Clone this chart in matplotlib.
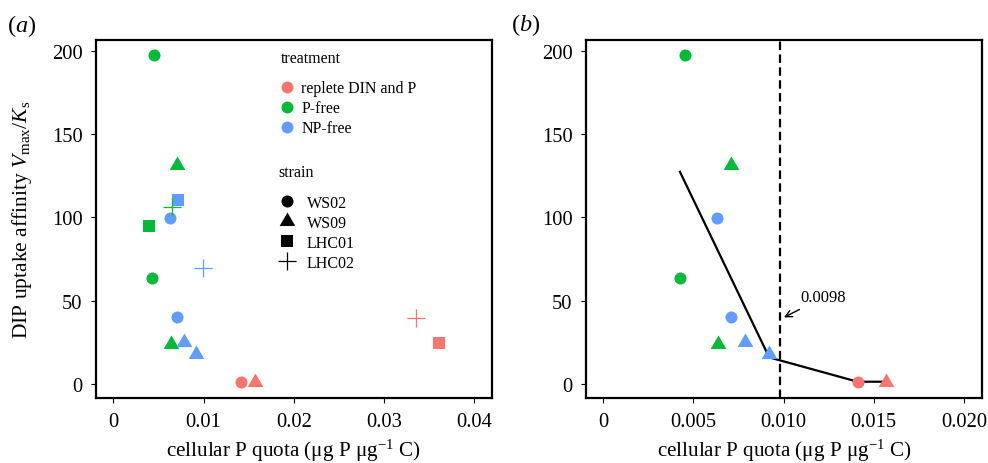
import matplotlib
matplotlib.use('Agg')
import matplotlib.pyplot as plt
from matplotlib.lines import Line2D
from matplotlib.path import Path

plt.rcParams['font.family'] = ['Liberation Serif', 'DejaVu Serif']
plt.rcParams['mathtext.fontset'] = 'custom'
plt.rcParams['mathtext.rm'] = 'Liberation Serif'
plt.rcParams['mathtext.it'] = 'Liberation Serif:italic'
plt.rcParams['mathtext.bf'] = 'Liberation Serif:bold'

# ---------------- data ----------------
strain = ['WS02', 'WS02', 'WS02', 'WS02', 'WS02',
          'WS09', 'WS09', 'WS09', 'WS09', 'WS09',
          'LHC01', 'LHC01', 'LHC01',
          'LHC02', 'LHC02', 'LHC02']
treatment = ['P-free', 'P-free', 'NP-free', 'NP-free', 'replete DIN and P',
             'P-free', 'P-free', 'NP-free', 'NP-free', 'replete DIN and P',
             'NP-free', 'P-free', 'replete DIN and P',
             'P-free', 'NP-free', 'replete DIN and P']
p_quota = [0.00451, 0.00425, 0.00629, 0.00710, 0.01412,
           0.00710, 0.00636, 0.00787, 0.00920, 0.01570,
           0.00720, 0.00399, 0.03610,
           0.00654, 0.00990, 0.03350]
affinity = [197.5, 63.8, 99.4, 40.4, 1.0,
            131.5, 24.0, 25.0, 18.0, 1.0,
            110.6, 94.6, 24.4,
            106.0, 69.8, 39.4]

treatments = ['replete DIN and P', 'P-free', 'NP-free']
treat_colors = ['#F8766D', '#00BA38', '#619CFF']
strains = ['WS02', 'WS09', 'LHC01', 'LHC02']
strains_b = ['WS02', 'WS09']

fit_x = [0.00425, 0.0092, 0.0141, 0.0157]
fit_y = [127.4, 16.0, 1.4, 1.4]
threshold = 0.0098
threshold_label = '0.0098'

xticks_a = [0, 0.01, 0.02, 0.03, 0.04]
xticklabels_a = ['0', '0.01', '0.02', '0.03', '0.04']
xticks_b = [0, 0.005, 0.010, 0.015, 0.020]
xticklabels_b = ['0', '0.005', '0.010', '0.015', '0.020']
yticks = [0, 50, 100, 150, 200]

# ---------------- styles ----------------
tri = Path([(-1, -0.577), (1, -0.577), (0, 1.155), (-1, -0.577)],
           [Path.MOVETO, Path.LINETO, Path.LINETO, Path.CLOSEPOLY])
marker_style = {'WS02': ('o', 75), 'WS09': (tri, 170),
                'LHC01': ('s', 83), 'LHC02': ('+', 169)}
color_of = dict(zip(treatments, treat_colors))

fig = plt.figure(figsize=(9.88, 4.64), dpi=100)
ax1 = fig.add_axes([0.0972, 0.140, 0.4005, 0.7716])
ax2 = fig.add_axes([0.5931, 0.140, 0.4008, 0.7716])


def draw_points(ax, keep):
    for xi, yi, s, t in zip(p_quota, affinity, strain, treatment):
        if s not in keep:
            continue
        m, size = marker_style[s]
        lw = 0.9 if s == 'LHC02' else 0
        ax.scatter([xi], [yi], marker=m, s=size, color=color_of[t],
                   linewidths=lw, zorder=3)


draw_points(ax1, strains)
draw_points(ax2, strains_b)

for ax in (ax1, ax2):
    for sp in ax.spines.values():
        sp.set_linewidth(1.6)
    ax.set_ylim(-8.4, 206.5)
    ax.set_yticks(yticks)
    ax.set_yticklabels([str(v) for v in yticks])
    ax.tick_params(direction='out', length=3.8, width=0.8, labelsize=14.8)
    ax.tick_params(axis='x', pad=6.3)
    ax.tick_params(axis='y', pad=5.8)
    ax.set_xlabel('cellular P quota (μg P μg$^{-1}$ C)', fontsize=15.2,
                  va='baseline')
    ax.xaxis.set_label_coords(0.5, -0.162)

ax1.set_xlim(-0.00192, 0.04195)
ax1.set_xticks(xticks_a)
ax1.set_xticklabels(xticklabels_a)
ax2.set_xlim(-0.00096, 0.0210)
ax2.set_xticks(xticks_b)
ax2.set_xticklabels(xticklabels_b)

ax1.set_ylabel(r'DIP uptake affinity $V_{\mathrm{max}}/K_{\mathrm{s}}$',
               fontsize=15.5, labelpad=13)

# legends panel a
h_treat = [Line2D([], [], marker='o', linestyle='None', color=c,
                  markersize=8.6, markeredgewidth=0) for c in treat_colors]
leg1 = ax1.legend(h_treat, treatments, loc='upper left',
                  bbox_to_anchor=(0.463, 0.888), frameon=False, fontsize=11.5,
                  handlelength=1.0, handletextpad=0.38, labelspacing=0.25,
                  borderpad=0, borderaxespad=0)
ax1.add_artist(leg1)
h_strain = []
for s in strains:
    m, size = marker_style[s]
    lw = 0.9 if s == 'LHC02' else 0
    h_strain.append(Line2D([], [], marker=m, linestyle='None', color='black',
                           markersize=size ** 0.5, markeredgewidth=lw))
ax1.legend(h_strain, strains, loc='upper left', bbox_to_anchor=(0.458, 0.568),
           frameon=False, fontsize=11.5, handlelength=1.2, handletextpad=0.63,
           labelspacing=0.25, borderpad=0, borderaxespad=0)
ax1.text(0.4675, 0.9497, 'treatment', transform=ax1.transAxes, fontsize=11.5,
         ha='left', va='center')
ax1.text(0.4604, 0.6313, 'strain', transform=ax1.transAxes, fontsize=11.5,
         ha='left', va='center')

# panel b fit line and threshold
ax2.plot(fit_x, fit_y, color='black', linewidth=1.6, zorder=2)
ax2.axvline(threshold, color='black', linewidth=1.6, linestyle=(0, (3.8, 2.0)),
            zorder=1)
ax2.annotate(threshold_label, xy=(0.010017, 40), xytext=(0.01092, 52),
             fontsize=12, ha='left', va='center',
             arrowprops=dict(arrowstyle='->', color='black', lw=1.0,
                             shrinkA=2, shrinkB=0))

fig.text(22 / 988, 1 - 26 / 464, '($a$)', fontsize=17.5, ha='center',
         va='center')
fig.text(526 / 988, 1 - 25 / 464, '($b$)', fontsize=17.5, ha='center',
         va='center')

fig.savefig('out.png', dpi=100)
